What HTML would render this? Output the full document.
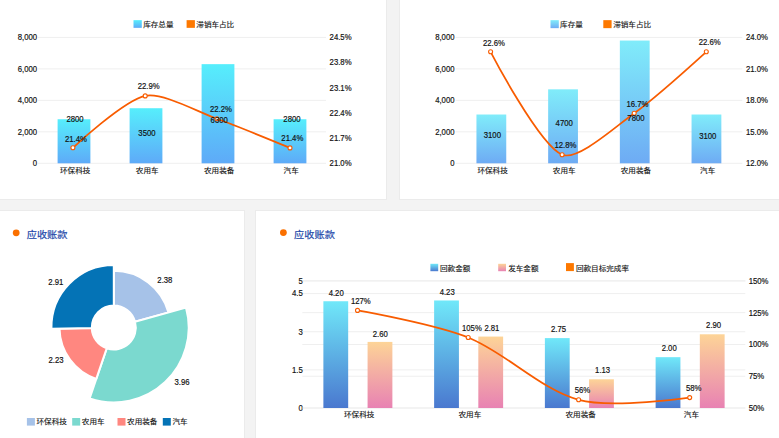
<!DOCTYPE html><html><head><meta charset="utf-8"><style>html,body{margin:0;padding:0;background:#f3f3f3;}svg{display:block}</style></head><body>
<svg width="779" height="438" viewBox="0 0 779 438" font-family='"Liberation Sans","Noto Sans CJK SC",sans-serif'>
<defs>
<linearGradient id="gTL" x1="0" y1="0" x2="0" y2="1"><stop offset="0" stop-color="#56eefc"/><stop offset="1" stop-color="#5eaaf8"/></linearGradient>
<linearGradient id="gTR" x1="0" y1="0" x2="0" y2="1"><stop offset="0" stop-color="#80ecfa"/><stop offset="1" stop-color="#6eabf4"/></linearGradient>
<linearGradient id="gB" x1="0" y1="0" x2="0" y2="1"><stop offset="0" stop-color="#70e8f9"/><stop offset="1" stop-color="#4a78cf"/></linearGradient>
<linearGradient id="gP" x1="0" y1="0" x2="0" y2="1"><stop offset="0" stop-color="#fdd497"/><stop offset="1" stop-color="#e882b3"/></linearGradient>
</defs>
<rect width="779" height="438" fill="#f3f3f3"/>
<rect x="-0.5" y="-0.5" width="387" height="200" fill="#fff" stroke="#ebebeb" stroke-width="1"/>
<rect x="399.5" y="-0.5" width="380" height="200" fill="#fff" stroke="#ebebeb" stroke-width="1"/>
<rect x="-0.5" y="210.5" width="245" height="228" fill="#fff" stroke="#ebebeb" stroke-width="1"/>
<rect x="255.5" y="210.5" width="524" height="228" fill="#fff" stroke="#ebebeb" stroke-width="1"/>
<rect x="38.00" y="36.90" width="288.00" height="1" fill="#efefef"/>
<text transform="translate(37.10,40.25) scale(0.9,1)" text-anchor="end" font-size="8.6" fill="#111" stroke="#111" stroke-width="0.18">8,000</text>
<rect x="38.00" y="68.38" width="288.00" height="1" fill="#efefef"/>
<text transform="translate(37.10,71.72) scale(0.9,1)" text-anchor="end" font-size="8.6" fill="#111" stroke="#111" stroke-width="0.18">6,000</text>
<rect x="38.00" y="99.85" width="288.00" height="1" fill="#efefef"/>
<text transform="translate(37.10,103.20) scale(0.9,1)" text-anchor="end" font-size="8.6" fill="#111" stroke="#111" stroke-width="0.18">4,000</text>
<rect x="38.00" y="131.33" width="288.00" height="1" fill="#efefef"/>
<text transform="translate(37.10,134.67) scale(0.9,1)" text-anchor="end" font-size="8.6" fill="#111" stroke="#111" stroke-width="0.18">2,000</text>
<rect x="38.00" y="162.80" width="288.00" height="1" fill="#efefef"/>
<text transform="translate(37.10,166.15) scale(0.9,1)" text-anchor="end" font-size="8.6" fill="#111" stroke="#111" stroke-width="0.18">0</text>
<text transform="translate(329.60,40.25) scale(0.9,1)" text-anchor="start" font-size="8.6" fill="#111" stroke="#111" stroke-width="0.18">24.5%</text>
<text transform="translate(329.60,65.43) scale(0.9,1)" text-anchor="start" font-size="8.6" fill="#111" stroke="#111" stroke-width="0.18">23.8%</text>
<text transform="translate(329.60,90.61) scale(0.9,1)" text-anchor="start" font-size="8.6" fill="#111" stroke="#111" stroke-width="0.18">23.1%</text>
<text transform="translate(329.60,115.79) scale(0.9,1)" text-anchor="start" font-size="8.6" fill="#111" stroke="#111" stroke-width="0.18">22.4%</text>
<text transform="translate(329.60,140.97) scale(0.9,1)" text-anchor="start" font-size="8.6" fill="#111" stroke="#111" stroke-width="0.18">21.7%</text>
<text transform="translate(329.60,166.15) scale(0.9,1)" text-anchor="start" font-size="8.6" fill="#111" stroke="#111" stroke-width="0.18">21.0%</text>
<rect x="57.60" y="119.24" width="32.8" height="44.06" fill="url(#gTL)"/>
<text transform="translate(75.20,173.14) scale(1,0.88)" text-anchor="middle" font-size="7.6" fill="#111" stroke="#111" stroke-width="0.12" >环保科技</text>
<rect x="129.60" y="108.22" width="32.8" height="55.08" fill="url(#gTL)"/>
<text transform="translate(147.20,173.14) scale(1,0.88)" text-anchor="middle" font-size="7.6" fill="#111" stroke="#111" stroke-width="0.12" >农用车</text>
<rect x="201.60" y="64.15" width="32.8" height="99.15" fill="url(#gTL)"/>
<text transform="translate(219.20,173.14) scale(1,0.88)" text-anchor="middle" font-size="7.6" fill="#111" stroke="#111" stroke-width="0.12" >农用装备</text>
<rect x="273.60" y="119.24" width="32.8" height="44.06" fill="url(#gTL)"/>
<text transform="translate(291.20,173.14) scale(1,0.88)" text-anchor="middle" font-size="7.6" fill="#111" stroke="#111" stroke-width="0.12" >汽车</text>
<path d="M72.90,147.80 C72.90,147.80 124.13,100.14 145.20,95.90 C163.01,92.31 197.79,111.94 216.90,118.80 C236.88,125.98 290.00,147.90 290.00,147.90" fill="none" stroke="#f85c00" stroke-width="1.75" stroke-linejoin="round"/>
<circle cx="72.90" cy="147.80" r="2.0" fill="#fff" stroke="#f85c00" stroke-width="1.1"/>
<circle cx="145.20" cy="95.90" r="2.0" fill="#fff" stroke="#f85c00" stroke-width="1.1"/>
<circle cx="216.90" cy="118.80" r="2.0" fill="#fff" stroke="#f85c00" stroke-width="1.1"/>
<circle cx="290.00" cy="147.90" r="2.0" fill="#fff" stroke="#f85c00" stroke-width="1.1"/>
<text transform="translate(75.00,122.35) scale(0.9,1)" text-anchor="middle" font-size="8.6" fill="#111" stroke="#111" stroke-width="0.18">2800</text>
<text transform="translate(75.90,141.65) scale(0.9,1)" text-anchor="middle" font-size="8.6" fill="#111" stroke="#111" stroke-width="0.18">21.4%</text>
<text transform="translate(146.95,135.85) scale(0.9,1)" text-anchor="middle" font-size="8.6" fill="#111" stroke="#111" stroke-width="0.18">3500</text>
<text transform="translate(148.65,89.35) scale(0.9,1)" text-anchor="middle" font-size="8.6" fill="#111" stroke="#111" stroke-width="0.18">22.9%</text>
<text transform="translate(220.85,112.25) scale(0.9,1)" text-anchor="middle" font-size="8.6" fill="#111" stroke="#111" stroke-width="0.18">22.2%</text>
<text transform="translate(219.20,122.65) scale(0.9,1)" text-anchor="middle" font-size="8.6" fill="#111" stroke="#111" stroke-width="0.18">6300</text>
<text transform="translate(291.95,122.45) scale(0.9,1)" text-anchor="middle" font-size="8.6" fill="#111" stroke="#111" stroke-width="0.18">2800</text>
<text transform="translate(292.30,141.25) scale(0.9,1)" text-anchor="middle" font-size="8.6" fill="#111" stroke="#111" stroke-width="0.18">21.4%</text>
<rect x="133.50" y="20.15" width="8.3" height="7.7" fill="url(#gTL)"/>
<text transform="translate(143.20,27.44) scale(1,0.88)" text-anchor="start" font-size="7.6" fill="#111" stroke="#111" stroke-width="0.12" >库存总量</text>
<rect x="186.60" y="20.15" width="8.3" height="7.7" fill="#fd7800"/>
<text transform="translate(196.30,27.44) scale(1,0.88)" text-anchor="start" font-size="7.6" fill="#111" stroke="#111" stroke-width="0.12" >滞销车占比</text>
<rect x="455.50" y="36.90" width="286.80" height="1" fill="#efefef"/>
<text transform="translate(454.50,40.25) scale(0.9,1)" text-anchor="end" font-size="8.6" fill="#111" stroke="#111" stroke-width="0.18">8,000</text>
<rect x="455.50" y="68.38" width="286.80" height="1" fill="#efefef"/>
<text transform="translate(454.50,71.72) scale(0.9,1)" text-anchor="end" font-size="8.6" fill="#111" stroke="#111" stroke-width="0.18">6,000</text>
<rect x="455.50" y="99.85" width="286.80" height="1" fill="#efefef"/>
<text transform="translate(454.50,103.20) scale(0.9,1)" text-anchor="end" font-size="8.6" fill="#111" stroke="#111" stroke-width="0.18">4,000</text>
<rect x="455.50" y="131.33" width="286.80" height="1" fill="#efefef"/>
<text transform="translate(454.50,134.67) scale(0.9,1)" text-anchor="end" font-size="8.6" fill="#111" stroke="#111" stroke-width="0.18">2,000</text>
<rect x="455.50" y="162.80" width="286.80" height="1" fill="#efefef"/>
<text transform="translate(454.50,166.15) scale(0.9,1)" text-anchor="end" font-size="8.6" fill="#111" stroke="#111" stroke-width="0.18">0</text>
<text transform="translate(746.00,40.25) scale(0.9,1)" text-anchor="start" font-size="8.6" fill="#111" stroke="#111" stroke-width="0.18">24.0%</text>
<text transform="translate(746.00,71.72) scale(0.9,1)" text-anchor="start" font-size="8.6" fill="#111" stroke="#111" stroke-width="0.18">21.0%</text>
<text transform="translate(746.00,103.20) scale(0.9,1)" text-anchor="start" font-size="8.6" fill="#111" stroke="#111" stroke-width="0.18">18.0%</text>
<text transform="translate(746.00,134.67) scale(0.9,1)" text-anchor="start" font-size="8.6" fill="#111" stroke="#111" stroke-width="0.18">15.0%</text>
<text transform="translate(746.00,166.15) scale(0.9,1)" text-anchor="start" font-size="8.6" fill="#111" stroke="#111" stroke-width="0.18">12.0%</text>
<rect x="476.45" y="114.51" width="29.8" height="48.79" fill="url(#gTR)"/>
<text transform="translate(492.55,173.14) scale(1,0.88)" text-anchor="middle" font-size="7.6" fill="#111" stroke="#111" stroke-width="0.12" >环保科技</text>
<rect x="548.15" y="89.33" width="29.8" height="73.97" fill="url(#gTR)"/>
<text transform="translate(564.25,173.14) scale(1,0.88)" text-anchor="middle" font-size="7.6" fill="#111" stroke="#111" stroke-width="0.12" >农用车</text>
<rect x="619.85" y="40.55" width="29.8" height="122.75" fill="url(#gTR)"/>
<text transform="translate(635.95,173.14) scale(1,0.88)" text-anchor="middle" font-size="7.6" fill="#111" stroke="#111" stroke-width="0.12" >农用装备</text>
<rect x="691.55" y="114.51" width="29.8" height="48.79" fill="url(#gTR)"/>
<text transform="translate(707.65,173.14) scale(1,0.88)" text-anchor="middle" font-size="7.6" fill="#111" stroke="#111" stroke-width="0.12" >汽车</text>
<path d="M490.60,51.80 C490.60,51.80 538.80,144.74 562.10,154.70 C577.57,161.31 615.99,126.19 634.20,113.20 C654.93,98.41 706.30,51.80 706.30,51.80" fill="none" stroke="#f85c00" stroke-width="1.75" stroke-linejoin="round"/>
<circle cx="490.60" cy="51.80" r="2.0" fill="#fff" stroke="#f85c00" stroke-width="1.1"/>
<circle cx="562.10" cy="154.70" r="2.0" fill="#fff" stroke="#f85c00" stroke-width="1.1"/>
<circle cx="634.20" cy="113.20" r="2.0" fill="#fff" stroke="#f85c00" stroke-width="1.1"/>
<circle cx="706.30" cy="51.80" r="2.0" fill="#fff" stroke="#f85c00" stroke-width="1.1"/>
<text transform="translate(493.85,45.55) scale(0.9,1)" text-anchor="middle" font-size="8.6" fill="#111" stroke="#111" stroke-width="0.18">22.6%</text>
<text transform="translate(492.35,138.45) scale(0.9,1)" text-anchor="middle" font-size="8.6" fill="#111" stroke="#111" stroke-width="0.18">3100</text>
<text transform="translate(564.20,126.05) scale(0.9,1)" text-anchor="middle" font-size="8.6" fill="#111" stroke="#111" stroke-width="0.18">4700</text>
<text transform="translate(565.40,148.35) scale(0.9,1)" text-anchor="middle" font-size="8.6" fill="#111" stroke="#111" stroke-width="0.18">12.8%</text>
<text transform="translate(637.35,107.15) scale(0.9,1)" text-anchor="middle" font-size="8.6" fill="#111" stroke="#111" stroke-width="0.18">16.7%</text>
<text transform="translate(635.95,120.55) scale(0.9,1)" text-anchor="middle" font-size="8.6" fill="#111" stroke="#111" stroke-width="0.18">7800</text>
<text transform="translate(707.80,138.95) scale(0.9,1)" text-anchor="middle" font-size="8.6" fill="#111" stroke="#111" stroke-width="0.18">3100</text>
<text transform="translate(709.65,45.45) scale(0.9,1)" text-anchor="middle" font-size="8.6" fill="#111" stroke="#111" stroke-width="0.18">22.6%</text>
<rect x="550.50" y="20.15" width="8.3" height="8.0" fill="url(#gTR)"/>
<text transform="translate(560.10,27.44) scale(1,0.88)" text-anchor="start" font-size="7.6" fill="#111" stroke="#111" stroke-width="0.12" >库存量</text>
<rect x="603.30" y="20.15" width="8.3" height="8.0" fill="#fd7800"/>
<text transform="translate(613.20,27.44) scale(1,0.88)" text-anchor="start" font-size="7.6" fill="#111" stroke="#111" stroke-width="0.12" >滞销车占比</text>
<circle cx="16.2" cy="232.8" r="3.4" fill="#fa7000"/>
<text transform="translate(26.70,237.80) scale(1,0.93)" text-anchor="start" font-size="10.2" fill="#2449aa" stroke="#2449aa" stroke-width="0.2" >应收账款</text>
<path d="M113.80,270.80 A56.70,56.70 0 0 1 168.47,312.48 L135.01,321.67 A22.0,22.0 0 0 0 113.80,305.50 Z" fill="#a6c2e8" stroke="#fff" stroke-width="2" stroke-linejoin="round"/>
<path d="M186.02,307.65 A74.90,74.90 0 0 1 89.64,398.40 L106.70,348.32 A22.0,22.0 0 0 0 135.01,321.67 Z" fill="#7bd9cf" stroke="#fff" stroke-width="2" stroke-linejoin="round"/>
<path d="M96.29,378.90 A54.30,54.30 0 0 1 59.51,328.69 L91.81,327.98 A22.0,22.0 0 0 0 106.70,348.32 Z" fill="#ff8780" stroke="#fff" stroke-width="2" stroke-linejoin="round"/>
<path d="M51.41,328.87 A62.40,62.40 0 0 1 113.80,265.10 L113.80,305.50 A22.0,22.0 0 0 0 91.81,327.98 Z" fill="#0473b6" stroke="#fff" stroke-width="2" stroke-linejoin="round"/>
<text transform="translate(164.85,283.35) scale(0.9,1)" text-anchor="middle" font-size="8.6" fill="#111" stroke="#111" stroke-width="0.18">2.38</text>
<text transform="translate(55.85,284.75) scale(0.9,1)" text-anchor="middle" font-size="8.6" fill="#111" stroke="#111" stroke-width="0.18">2.91</text>
<text transform="translate(56.05,362.75) scale(0.9,1)" text-anchor="middle" font-size="8.6" fill="#111" stroke="#111" stroke-width="0.18">2.23</text>
<text transform="translate(182.00,385.25) scale(0.9,1)" text-anchor="middle" font-size="8.6" fill="#111" stroke="#111" stroke-width="0.18">3.96</text>
<rect x="26.90" y="418.00" width="8" height="7.6" fill="#a6c2e8"/>
<text transform="translate(36.50,424.34) scale(1,0.88)" text-anchor="start" font-size="7.6" fill="#111" stroke="#111" stroke-width="0.12" >环保科技</text>
<rect x="72.20" y="418.00" width="8" height="7.6" fill="#7bd9cf"/>
<text transform="translate(81.80,424.34) scale(1,0.88)" text-anchor="start" font-size="7.6" fill="#111" stroke="#111" stroke-width="0.12" >农用车</text>
<rect x="117.50" y="418.00" width="8" height="7.6" fill="#ff8780"/>
<text transform="translate(127.10,424.34) scale(1,0.88)" text-anchor="start" font-size="7.6" fill="#111" stroke="#111" stroke-width="0.12" >农用装备</text>
<rect x="162.80" y="418.00" width="8" height="7.6" fill="#0473b6"/>
<text transform="translate(172.40,424.34) scale(1,0.88)" text-anchor="start" font-size="7.6" fill="#111" stroke="#111" stroke-width="0.12" >汽车</text>
<circle cx="283.4" cy="232.6" r="3.4" fill="#fa7000"/>
<text transform="translate(294.10,237.60) scale(1,0.93)" text-anchor="start" font-size="10.2" fill="#2449aa" stroke="#2449aa" stroke-width="0.2" >应收账款</text>
<rect x="302.30" y="407.50" width="443.00" height="1" fill="#efefef"/>
<text transform="translate(302.80,410.85) scale(0.9,1)" text-anchor="end" font-size="8.6" fill="#111" stroke="#111" stroke-width="0.18">0</text>
<rect x="302.30" y="369.37" width="443.00" height="1" fill="#efefef"/>
<text transform="translate(302.80,372.72) scale(0.9,1)" text-anchor="end" font-size="8.6" fill="#111" stroke="#111" stroke-width="0.18">1.5</text>
<rect x="302.30" y="331.24" width="443.00" height="1" fill="#efefef"/>
<text transform="translate(302.80,334.59) scale(0.9,1)" text-anchor="end" font-size="8.6" fill="#111" stroke="#111" stroke-width="0.18">3</text>
<rect x="302.30" y="293.11" width="443.00" height="1" fill="#efefef"/>
<text transform="translate(302.80,296.46) scale(0.9,1)" text-anchor="end" font-size="8.6" fill="#111" stroke="#111" stroke-width="0.18">4.5</text>
<rect x="302.30" y="280.40" width="443.00" height="1" fill="#efefef"/>
<text transform="translate(302.80,283.75) scale(0.9,1)" text-anchor="end" font-size="8.6" fill="#111" stroke="#111" stroke-width="0.18">5</text>
<rect x="302.30" y="280.40" width="443.00" height="1" fill="#efefef"/>
<text transform="translate(748.70,283.75) scale(0.9,1)" text-anchor="start" font-size="8.6" fill="#111" stroke="#111" stroke-width="0.18">150%</text>
<rect x="302.30" y="312.17" width="443.00" height="1" fill="#efefef"/>
<text transform="translate(748.70,315.52) scale(0.9,1)" text-anchor="start" font-size="8.6" fill="#111" stroke="#111" stroke-width="0.18">125%</text>
<rect x="302.30" y="343.95" width="443.00" height="1" fill="#efefef"/>
<text transform="translate(748.70,347.30) scale(0.9,1)" text-anchor="start" font-size="8.6" fill="#111" stroke="#111" stroke-width="0.18">100%</text>
<rect x="302.30" y="375.73" width="443.00" height="1" fill="#efefef"/>
<text transform="translate(748.70,379.07) scale(0.9,1)" text-anchor="start" font-size="8.6" fill="#111" stroke="#111" stroke-width="0.18">75%</text>
<rect x="302.30" y="407.50" width="443.00" height="1" fill="#efefef"/>
<text transform="translate(748.70,410.85) scale(0.9,1)" text-anchor="start" font-size="8.6" fill="#111" stroke="#111" stroke-width="0.18">50%</text>
<rect x="323.38" y="301.24" width="24.8" height="106.76" fill="url(#gB)"/>
<rect x="367.58" y="341.91" width="24.8" height="66.09" fill="url(#gP)"/>
<text transform="translate(359.18,417.44) scale(1,0.88)" text-anchor="middle" font-size="7.6" fill="#111" stroke="#111" stroke-width="0.12" >环保科技</text>
<rect x="434.12" y="300.47" width="24.8" height="107.53" fill="url(#gB)"/>
<rect x="478.32" y="336.57" width="24.8" height="71.43" fill="url(#gP)"/>
<text transform="translate(469.92,417.44) scale(1,0.88)" text-anchor="middle" font-size="7.6" fill="#111" stroke="#111" stroke-width="0.12" >农用车</text>
<rect x="544.88" y="338.09" width="24.8" height="69.91" fill="url(#gB)"/>
<rect x="589.07" y="379.28" width="24.8" height="28.72" fill="url(#gP)"/>
<text transform="translate(580.67,417.44) scale(1,0.88)" text-anchor="middle" font-size="7.6" fill="#111" stroke="#111" stroke-width="0.12" >农用装备</text>
<rect x="655.62" y="357.16" width="24.8" height="50.84" fill="url(#gB)"/>
<rect x="699.82" y="334.28" width="24.8" height="73.72" fill="url(#gP)"/>
<text transform="translate(691.42,417.44) scale(1,0.88)" text-anchor="middle" font-size="7.6" fill="#111" stroke="#111" stroke-width="0.12" >汽车</text>
<path d="M357.50,310.40 C357.50,310.40 434.70,323.96 468.20,337.50 C505.46,352.56 540.83,389.55 578.60,399.80 C611.71,408.78 689.70,397.60 689.70,397.60" fill="none" stroke="#f85c00" stroke-width="1.75" stroke-linejoin="round"/>
<circle cx="357.50" cy="310.40" r="2.0" fill="#fff" stroke="#f85c00" stroke-width="1.1"/>
<circle cx="468.20" cy="337.50" r="2.0" fill="#fff" stroke="#f85c00" stroke-width="1.1"/>
<circle cx="578.60" cy="399.80" r="2.0" fill="#fff" stroke="#f85c00" stroke-width="1.1"/>
<circle cx="689.70" cy="397.60" r="2.0" fill="#fff" stroke="#f85c00" stroke-width="1.1"/>
<text transform="translate(336.20,296.25) scale(0.9,1)" text-anchor="middle" font-size="8.6" fill="#111" stroke="#111" stroke-width="0.18">4.20</text>
<text transform="translate(360.80,304.25) scale(0.9,1)" text-anchor="middle" font-size="8.6" fill="#111" stroke="#111" stroke-width="0.18">127%</text>
<text transform="translate(380.30,336.55) scale(0.9,1)" text-anchor="middle" font-size="8.6" fill="#111" stroke="#111" stroke-width="0.18">2.60</text>
<text transform="translate(447.20,294.65) scale(0.9,1)" text-anchor="middle" font-size="8.6" fill="#111" stroke="#111" stroke-width="0.18">4.23</text>
<text transform="translate(471.90,331.45) scale(0.9,1)" text-anchor="middle" font-size="8.6" fill="#111" stroke="#111" stroke-width="0.18">105%</text>
<text transform="translate(491.90,331.45) scale(0.9,1)" text-anchor="middle" font-size="8.6" fill="#111" stroke="#111" stroke-width="0.18">2.81</text>
<text transform="translate(558.50,332.45) scale(0.9,1)" text-anchor="middle" font-size="8.6" fill="#111" stroke="#111" stroke-width="0.18">2.75</text>
<text transform="translate(602.60,373.05) scale(0.9,1)" text-anchor="middle" font-size="8.6" fill="#111" stroke="#111" stroke-width="0.18">1.13</text>
<text transform="translate(582.50,393.15) scale(0.9,1)" text-anchor="middle" font-size="8.6" fill="#111" stroke="#111" stroke-width="0.18">56%</text>
<text transform="translate(669.20,351.35) scale(0.9,1)" text-anchor="middle" font-size="8.6" fill="#111" stroke="#111" stroke-width="0.18">2.00</text>
<text transform="translate(713.60,328.35) scale(0.9,1)" text-anchor="middle" font-size="8.6" fill="#111" stroke="#111" stroke-width="0.18">2.90</text>
<text transform="translate(693.70,391.35) scale(0.9,1)" text-anchor="middle" font-size="8.6" fill="#111" stroke="#111" stroke-width="0.18">58%</text>
<rect x="430.40" y="263.80" width="7.8" height="7.4" fill="url(#gB)"/>
<text transform="translate(440.00,270.64) scale(1,0.88)" text-anchor="start" font-size="7.6" fill="#111" stroke="#111" stroke-width="0.12" >回款金额</text>
<rect x="498.20" y="263.80" width="7.8" height="7.4" fill="url(#gP)"/>
<text transform="translate(508.20,270.64) scale(1,0.88)" text-anchor="start" font-size="7.6" fill="#111" stroke="#111" stroke-width="0.12" >发车金额</text>
<rect x="566.00" y="263.10" width="7.9" height="8.0" fill="#fd7800"/>
<text transform="translate(575.90,270.84) scale(1,0.88)" text-anchor="start" font-size="7.6" fill="#111" stroke="#111" stroke-width="0.12" >回款目标完成率</text>
</svg></body></html>
